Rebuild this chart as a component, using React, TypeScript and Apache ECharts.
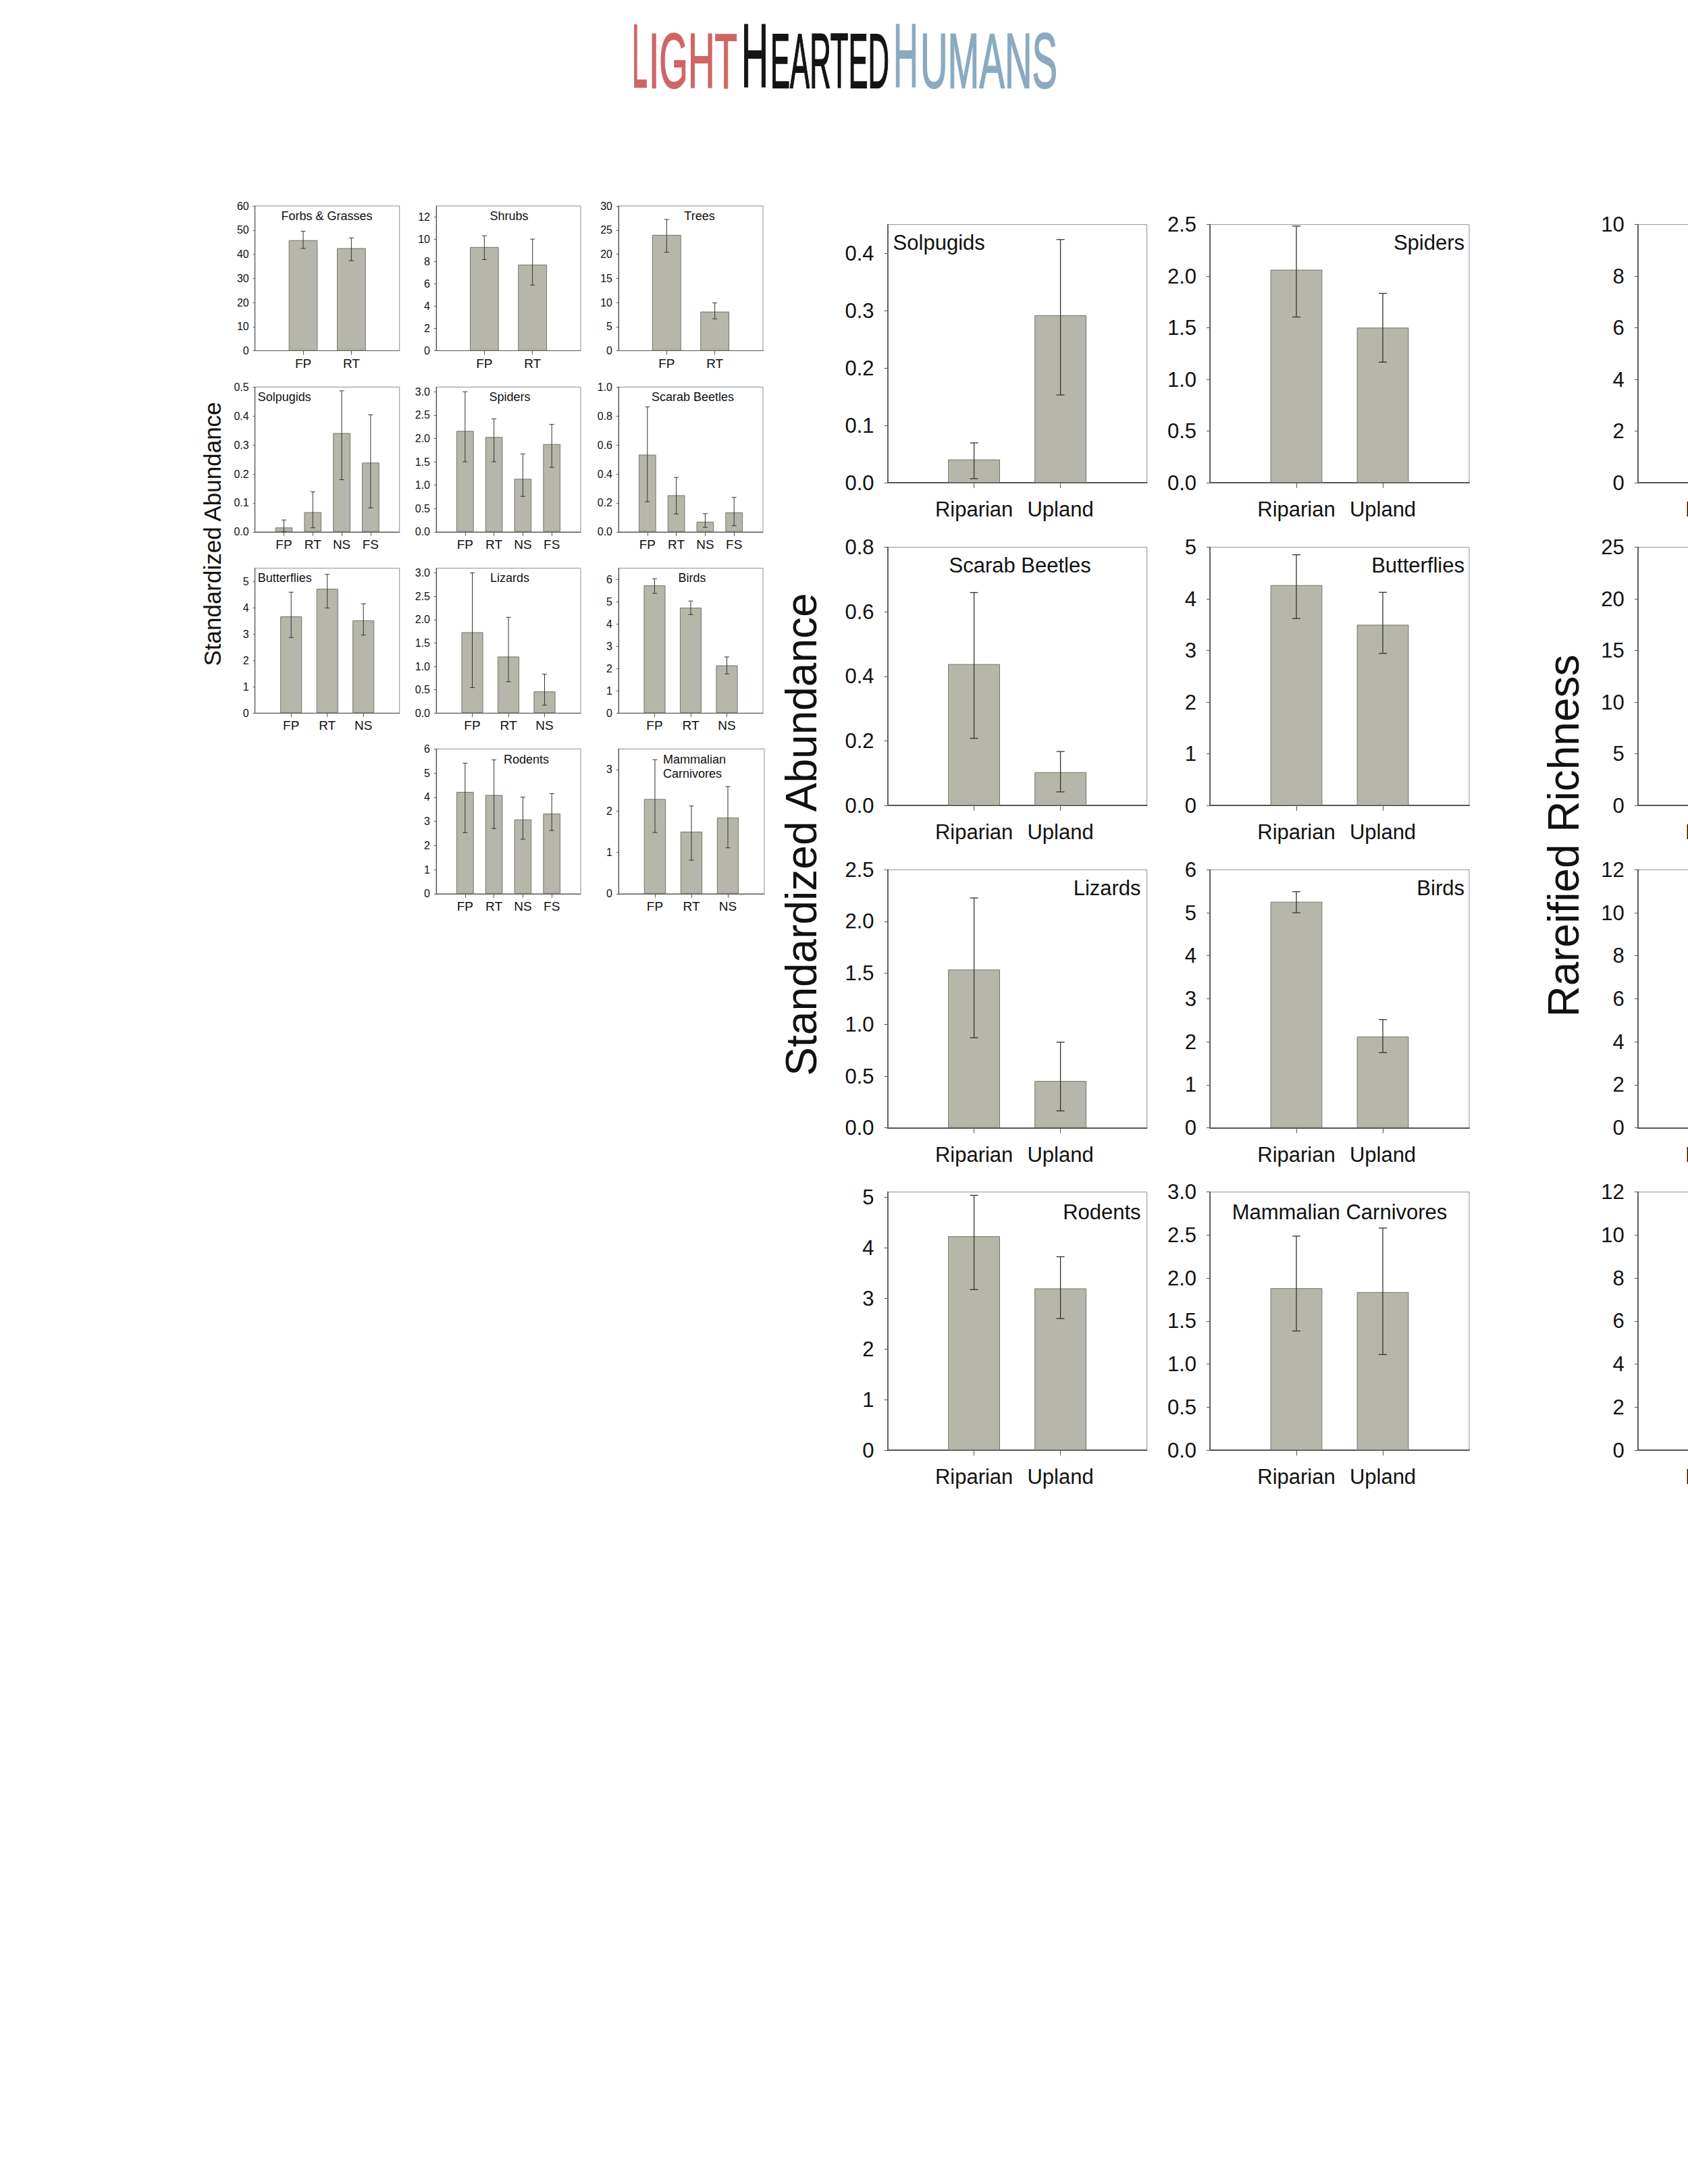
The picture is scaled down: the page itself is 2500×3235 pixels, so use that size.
import React, { useEffect, useRef } from 'react';
import * as echarts from 'echarts';

// ---------- categories ----------
const catsTwo = ['FP', 'RT'];
const catsThree = ['FP', 'RT', 'NS'];
const catsFour = ['FP', 'RT', 'NS', 'FS'];
const catsBig = ['Riparian', 'Upland'];

// ---------- small panels (means, lower / upper error limits) ----------
const forbsMean = [45.8, 42.5];
const forbsLow = [42.4, 37.3];
const forbsHigh = [49.5, 46.7];

const shrubsMean = [9.31, 7.73];
const shrubsLow = [8.18, 5.89];
const shrubsHigh = [10.32, 10.02];

const treesMean = [24.0, 8.1];
const treesLow = [20.4, 6.6];
const treesHigh = [27.2, 9.9];

const solpSmallMean = [0.015, 0.068, 0.341, 0.239];
const solpSmallLow = [0.0, 0.014, 0.18, 0.083];
const solpSmallHigh = [0.041, 0.138, 0.487, 0.404];

const spidSmallMean = [2.16, 2.03, 1.135, 1.88];
const spidSmallLow = [1.5, 1.5, 0.76, 1.38];
const spidSmallHigh = [3.0, 2.42, 1.67, 2.3];

const scarSmallMean = [0.533, 0.253, 0.07, 0.134];
const scarSmallLow = [0.208, 0.124, 0.031, 0.042];
const scarSmallHigh = [0.863, 0.376, 0.126, 0.238];

const buttSmallMean = [3.67, 4.72, 3.52];
const buttSmallLow = [2.87, 3.99, 2.96];
const buttSmallHigh = [4.59, 5.27, 4.15];

const lizSmallMean = [1.73, 1.21, 0.462];
const lizSmallLow = [0.544, 0.67, 0.17];
const lizSmallHigh = [3.0, 2.05, 0.833];

const birdSmallMean = [5.73, 4.73, 2.14];
const birdSmallLow = [5.37, 4.42, 1.76];
const birdSmallHigh = [6.03, 5.03, 2.52];

const rodSmallMean = [4.22, 4.09, 3.08, 3.32];
const rodSmallLow = [2.53, 2.7, 2.26, 2.62];
const rodSmallHigh = [5.41, 5.545, 4.0, 4.15];

const mcSmallMean = [2.29, 1.5, 1.84];
const mcSmallLow = [1.48, 0.81, 1.11];
const mcSmallHigh = [3.24, 2.12, 2.59];

// ---------- big panels ----------
const solpBigMean = [0.0405, 0.292];
const solpBigLow = [0.007, 0.153];
const solpBigHigh = [0.0695, 0.424];

const spidBigMean = [2.063, 1.502];
const spidBigLow = [1.605, 1.168];
const spidBigHigh = [2.485, 1.834];

const scarBigMean = [0.438, 0.103];
const scarBigLow = [0.208, 0.042];
const scarBigHigh = [0.66, 0.167];

const buttBigMean = [4.267, 3.5];
const buttBigLow = [3.62, 2.945];
const buttBigHigh = [4.856, 4.128];

const lizBigMean = [1.533, 0.454];
const lizBigLow = [0.873, 0.164];
const lizBigHigh = [2.227, 0.83];

const birdBigMean = [5.256, 2.122];
const birdBigLow = [5.0, 1.75];
const birdBigHigh = [5.49, 2.515];

const rodBigMean = [4.227, 3.196];
const rodBigLow = [3.173, 2.6];
const rodBigHigh = [5.036, 3.822];

const mcBigMean = [1.882, 1.837];
const mcBigLow = [1.385, 1.111];
const mcBigHigh = [2.488, 2.582];

// ---------- tick labels ----------
const ticksForbs = [0, 10, 20, 30, 40, 50, 60];
const ticksShrubs = [0, 2, 4, 6, 8, 10, 12];
const ticksTrees = [0, 5, 10, 15, 20, 25, 30];
const ticksSolpSmall = [0, 0.1, 0.2, 0.3, 0.4, 0.5];
const ticksHalfToThree = [0, 0.5, 1.0, 1.5, 2.0, 2.5, 3.0];
const ticksScarSmall = [0, 0.2, 0.4, 0.6, 0.8, 1.0];
const ticksZeroToFive = [0, 1, 2, 3, 4, 5];
const ticksZeroToSix = [0, 1, 2, 3, 4, 5, 6];
const ticksZeroToThree = [0, 1, 2, 3];
const ticksSolpBig = [0, 0.1, 0.2, 0.3, 0.4];
const ticksHalfToTwoFive = [0, 0.5, 1.0, 1.5, 2.0, 2.5];
const ticksScarBig = [0, 0.2, 0.4, 0.6, 0.8];
const ticksRich1 = [0, 2, 4, 6, 8, 10];
const ticksRich2 = [0, 5, 10, 15, 20, 25];
const ticksRich3 = [0, 2, 4, 6, 8, 10, 12];

// ---------- texts ----------
const smallYTitle = 'Standardized Abundance';
const bigYTitle = 'Standardized Abundance';
const richYTitle = 'Rareified Richness';

const FONT = '"Liberation Sans", Arial, Helvetica, sans-serif';
const LOGO_FONT = '"Liberation Sans Narrow", "Liberation Sans", Arial, sans-serif';

// ---------- layout ----------
const SC = [377.7, 646, 916];
const SR = [305, 573.3, 841.7, 1109.3];
const SW = 214;
const SH = 214.5;
const BC = [1314.6, 1792];
const RC = 2425.7;
const BR = [332.7, 810.7, 1288.3, 1765.7];
const BW = 384;
const BH = 382.3;

const small = { tickFont: 16, catFont: 19, titleFont: 18, yMargin: 9, xMargin: 9, yTick: 3, xTick: 6, axisW: 1.2, cap: 3.5, errW: 1 };
const big = { tickFont: 31, catFont: 31, titleFont: 31, yMargin: 20, xMargin: 24, yTick: 5, xTick: 8, axisW: 1.8, cap: 6, errW: 1.3 };

type Panel = {
  left: number; top: number; w: number; h: number; st: any;
  cats: string[]; mean?: number[]; low?: number[]; high?: number[];
  max: number; ticks: number[]; dec: number;
  title?: string; tx?: number; ty?: number; talign?: string;
};

const panels: Panel[] = [
  // small row 1
  { left: SC[0], top: SR[0], w: SW, h: SH, st: small, cats: catsTwo, mean: forbsMean, low: forbsLow, high: forbsHigh, max: 60, ticks: ticksForbs, dec: 0, title: 'Forbs & Grasses', tx: 484, ty: SR[0] + 15, talign: 'center' },
  { left: SC[1], top: SR[0], w: SW, h: SH, st: small, cats: catsTwo, mean: shrubsMean, low: shrubsLow, high: shrubsHigh, max: 13, ticks: ticksShrubs, dec: 0, title: 'Shrubs', tx: 754, ty: SR[0] + 15, talign: 'center' },
  { left: SC[2], top: SR[0], w: SW, h: SH, st: small, cats: catsTwo, mean: treesMean, low: treesLow, high: treesHigh, max: 30, ticks: ticksTrees, dec: 0, title: 'Trees', tx: 1036, ty: SR[0] + 15, talign: 'center' },
  // small row 2
  { left: SC[0], top: SR[1], w: SW, h: SH, st: small, cats: catsFour, mean: solpSmallMean, low: solpSmallLow, high: solpSmallHigh, max: 0.5, ticks: ticksSolpSmall, dec: 1, title: 'Solpugids', tx: SC[0] + 4, ty: SR[1] + 15, talign: 'left' },
  { left: SC[1], top: SR[1], w: SW, h: SH, st: small, cats: catsFour, mean: spidSmallMean, low: spidSmallLow, high: spidSmallHigh, max: 3.1, ticks: ticksHalfToThree, dec: 1, title: 'Spiders', tx: 755, ty: SR[1] + 15, talign: 'center' },
  { left: SC[2], top: SR[1], w: SW, h: SH, st: small, cats: catsFour, mean: scarSmallMean, low: scarSmallLow, high: scarSmallHigh, max: 1.0, ticks: ticksScarSmall, dec: 1, title: 'Scarab Beetles', tx: 1026, ty: SR[1] + 15, talign: 'center' },
  // small row 3
  { left: SC[0], top: SR[2], w: SW, h: SH, st: small, cats: catsThree, mean: buttSmallMean, low: buttSmallLow, high: buttSmallHigh, max: 5.5, ticks: ticksZeroToFive, dec: 0, title: 'Butterflies', tx: SC[0] + 4, ty: SR[2] + 14, talign: 'left' },
  { left: SC[1], top: SR[2], w: SW, h: SH, st: small, cats: catsThree, mean: lizSmallMean, low: lizSmallLow, high: lizSmallHigh, max: 3.1, ticks: ticksHalfToThree, dec: 1, title: 'Lizards', tx: 755, ty: SR[2] + 14, talign: 'center' },
  { left: SC[2], top: SR[2], w: SW, h: SH, st: small, cats: catsThree, mean: birdSmallMean, low: birdSmallLow, high: birdSmallHigh, max: 6.5, ticks: ticksZeroToSix, dec: 0, title: 'Birds', tx: 1025, ty: SR[2] + 14, talign: 'center' },
  // small row 4
  { left: SC[1], top: SR[3], w: SW, h: SH, st: small, cats: catsFour, mean: rodSmallMean, low: rodSmallLow, high: rodSmallHigh, max: 6, ticks: ticksZeroToSix, dec: 0, title: 'Rodents', tx: 746, ty: SR[3] + 16, talign: 'left' },
  { left: SC[2], top: SR[3], w: SW + 2, h: SH, st: small, cats: catsThree, mean: mcSmallMean, low: mcSmallLow, high: mcSmallHigh, max: 3.5, ticks: ticksZeroToThree, dec: 0, title: 'Mammalian\nCarnivores', tx: 982, ty: SR[3] + 26, talign: 'left' },
  // big column 1
  { left: BC[0], top: BR[0], w: BW, h: BH, st: big, cats: catsBig, mean: solpBigMean, low: solpBigLow, high: solpBigHigh, max: 0.45, ticks: ticksSolpBig, dec: 1, title: 'Solpugids', tx: BC[0] + 8, ty: BR[0] + 27, talign: 'left' },
  { left: BC[0], top: BR[1], w: BW, h: BH, st: big, cats: catsBig, mean: scarBigMean, low: scarBigLow, high: scarBigHigh, max: 0.8, ticks: ticksScarBig, dec: 1, title: 'Scarab Beetles', tx: BC[0] + BW / 2 + 4, ty: BR[1] + 27, talign: 'center' },
  { left: BC[0], top: BR[2], w: BW, h: BH, st: big, cats: catsBig, mean: lizBigMean, low: lizBigLow, high: lizBigHigh, max: 2.5, ticks: ticksHalfToTwoFive, dec: 1, title: 'Lizards', tx: BC[0] + BW - 9, ty: BR[2] + 27, talign: 'right' },
  { left: BC[0], top: BR[3], w: BW, h: BH, st: big, cats: catsBig, mean: rodBigMean, low: rodBigLow, high: rodBigHigh, max: 5.1, ticks: ticksZeroToFive, dec: 0, title: 'Rodents', tx: BC[0] + BW - 9, ty: BR[3] + 30, talign: 'right' },
  // big column 2
  { left: BC[1], top: BR[0], w: BW, h: BH, st: big, cats: catsBig, mean: spidBigMean, low: spidBigLow, high: spidBigHigh, max: 2.5, ticks: ticksHalfToTwoFive, dec: 1, title: 'Spiders', tx: BC[1] + BW - 7, ty: BR[0] + 27, talign: 'right' },
  { left: BC[1], top: BR[1], w: BW, h: BH, st: big, cats: catsBig, mean: buttBigMean, low: buttBigLow, high: buttBigHigh, max: 5, ticks: ticksZeroToFive, dec: 0, title: 'Butterflies', tx: BC[1] + BW - 7, ty: BR[1] + 27, talign: 'right' },
  { left: BC[1], top: BR[2], w: BW, h: BH, st: big, cats: catsBig, mean: birdBigMean, low: birdBigLow, high: birdBigHigh, max: 6, ticks: ticksZeroToSix, dec: 0, title: 'Birds', tx: BC[1] + BW - 7, ty: BR[2] + 27, talign: 'right' },
  { left: BC[1], top: BR[3], w: BW, h: BH, st: big, cats: catsBig, mean: mcBigMean, low: mcBigLow, high: mcBigHigh, max: 3.0, ticks: ticksHalfToThree, dec: 1, title: 'Mammalian Carnivores', tx: BC[1] + BW / 2, ty: BR[3] + 30, talign: 'center' },
  // rarefied richness column (only its left edge is on the page)
  { left: RC, top: BR[0], w: BW, h: BH, st: big, cats: catsBig, max: 10, ticks: ticksRich1, dec: 0 },
  { left: RC, top: BR[1], w: BW, h: BH, st: big, cats: catsBig, max: 25, ticks: ticksRich2, dec: 0 },
  { left: RC, top: BR[2], w: BW, h: BH, st: big, cats: catsBig, max: 12, ticks: ticksRich3, dec: 0 },
  { left: RC, top: BR[3], w: BW, h: BH, st: big, cats: catsBig, max: 12, ticks: ticksRich3, dec: 0 },
];

const logoPieces = [
  { text: 'L', color: '#cf6666', big: true, x: 936, w: 23 },
  { text: 'IGHT', color: '#cf6666', big: false, x: 961, w: 131 },
  { text: 'H', color: '#141414', big: true, x: 1098, w: 40 },
  { text: 'EARTED', color: '#141414', big: false, x: 1141, w: 176 },
  { text: 'H', color: '#8aaac0', big: true, x: 1323, w: 37 },
  { text: 'UMANS', color: '#8aaac0', big: false, x: 1363, w: 203 },
];

function measureText(text: string, font: string): number {
  const c = document.createElement('canvas').getContext('2d');
  if (!c) return text.length * 50;
  c.font = font;
  return c.measureText(text).width;
}

function buildOption() {
  const grid: any[] = [];
  const xAxis: any[] = [];
  const yAxis: any[] = [];
  const series: any[] = [];
  const graphic: any[] = [];

  panels.forEach((p, i) => {
    const st = p.st;
    const n = p.cats.length;
    grid.push({
      left: p.left, top: p.top, width: p.w, height: p.h, show: true,
      borderColor: '#8e8e8e', borderWidth: 1, backgroundColor: 'rgba(0,0,0,0)',
      containLabel: false, outerBoundsMode: 'none',
    });
    xAxis.push({
      type: 'category', gridIndex: i, data: ['', ...p.cats, ''], boundaryGap: false,
      axisLine: { show: true, onZero: false, lineStyle: { color: '#555', width: st.axisW } },
      axisTick: { show: true, interval: (idx: number) => idx > 0 && idx <= n, length: st.xTick, lineStyle: { color: '#555', width: 1 } },
      axisLabel: { show: true, interval: (idx: number) => idx > 0 && idx <= n, hideOverlap: false, fontSize: st.catFont, fontFamily: FONT, color: '#111', margin: st.xMargin },
      splitLine: { show: false },
    });
    yAxis.push({
      type: 'value', gridIndex: i, min: 0, max: p.max,
      axisLine: { show: true, lineStyle: { color: '#555', width: st.axisW } },
      axisTick: { show: true, customValues: p.ticks, length: st.yTick, lineStyle: { color: '#555', width: 1 } },
      axisLabel: { show: true, customValues: p.ticks, formatter: (v: number) => Number(v).toFixed(p.dec), fontSize: st.tickFont, fontFamily: FONT, color: '#111', margin: st.yMargin },
      splitLine: { show: false },
    });
    if (p.mean && p.low && p.high) {
      const barW = (p.w / (n + 1)) * 0.6;
      series.push({
        type: 'bar', xAxisIndex: i, yAxisIndex: i, silent: true,
        data: ['-', ...p.mean, '-'], barWidth: barW,
        itemStyle: { color: '#b6b7aa', borderColor: '#74746b', borderWidth: 1 },
        z: 2,
      });
      const cap = st.cap;
      const errW = st.errW;
      series.push({
        type: 'custom', xAxisIndex: i, yAxisIndex: i, silent: true, z: 5,
        data: p.mean.map((_, k) => [k + 1, p.low![k], p.high![k]]),
        encode: { x: 0, y: [1, 2] },
        renderItem: (_params: any, api: any) => {
          const xv = api.value(0);
          const pHi = api.coord([xv, api.value(2)]);
          const pLo = api.coord([xv, api.value(1)]);
          const style = { stroke: '#333', lineWidth: errW };
          return {
            type: 'group',
            children: [
              { type: 'line', shape: { x1: pHi[0], y1: pHi[1], x2: pLo[0], y2: pLo[1] }, style },
              { type: 'line', shape: { x1: pHi[0] - cap, y1: pHi[1], x2: pHi[0] + cap, y2: pHi[1] }, style },
              { type: 'line', shape: { x1: pLo[0] - cap, y1: pLo[1], x2: pLo[0] + cap, y2: pLo[1] }, style },
            ],
          };
        },
      });
    }
    if (p.title) {
      const multi = p.title.indexOf('\n') >= 0;
      graphic.push({
        type: 'text', x: p.tx, y: p.ty, z: 10,
        style: {
          text: p.title, fontSize: st.titleFont, fontFamily: FONT, fill: '#111',
          align: p.talign, verticalAlign: 'middle', lineHeight: multi ? 20.5 : undefined,
        },
      });
    }
  });

  // axis titles
  graphic.push({ type: 'text', x: 314, y: 791, rotation: Math.PI / 2, style: { text: smallYTitle, fontSize: 35, fontFamily: FONT, fill: '#111', align: 'center', verticalAlign: 'middle' } });
  graphic.push({ type: 'text', x: 1187, y: 1236, rotation: Math.PI / 2, style: { text: bigYTitle, fontSize: 64, fontFamily: FONT, fill: '#111', align: 'center', verticalAlign: 'middle' } });
  graphic.push({ type: 'text', x: 2316, y: 1238, rotation: Math.PI / 2, style: { text: richYTitle, fontSize: 64, fontFamily: FONT, fill: '#111', align: 'center', verticalAlign: 'middle' } });

  // logo
  logoPieces.forEach((lp) => {
    const size = lp.big ? 133 : 115;
    const font = `normal ${size}px ${LOGO_FONT}`;
    const natural = measureText(lp.text, font);
    const sx = natural > 0 ? lp.w / natural : 0.45;
    graphic.push({
      type: 'text', x: lp.x, y: lp.big ? 83 : 89.5, scaleX: sx, scaleY: 1,
      style: { text: lp.text, fontSize: size, fontWeight: 'normal', fontFamily: LOGO_FONT, fill: lp.color, stroke: lp.color, lineWidth: 2, align: 'left', verticalAlign: 'middle' },
    });
  });

  return {
    animation: false,
    backgroundColor: '#ffffff',
    grid, xAxis, yAxis, series, graphic,
  };
}

export default function App() {
  const ref = useRef<HTMLDivElement>(null);
  useEffect(() => {
    document.body.style.margin = '0';
    document.body.style.background = '#ffffff';
    if (!ref.current) return;
    const chart = echarts.init(ref.current, null, { renderer: 'svg', width: 2500, height: 3235 });
    chart.setOption(buildOption() as any);
    return () => chart.dispose();
  }, []);
  return <div ref={ref} style={{ width: 2500, height: 3235, overflow: 'hidden', background: '#fff' }} />;
}
